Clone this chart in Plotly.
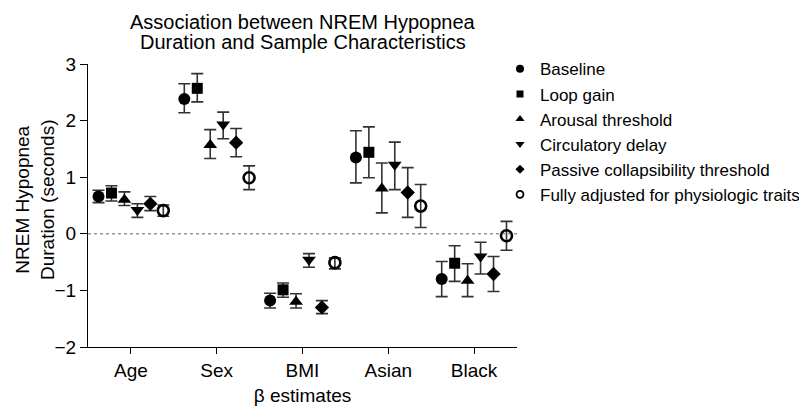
import plotly.graph_objects as go

categories = ["Age", "Sex", "BMI", "Asian", "Black"]
models = ["Baseline", "Loop gain", "Arousal threshold", "Circulatory delay",
          "Passive collapsibility threshold", "Fully adjusted for physiologic traits"]
title_lines = ["Association between NREM Hypopnea", "Duration and Sample Characteristics"]

baseline_est = [0.66, 2.38, -1.18, 1.35, -0.80]
baseline_lo = [0.55, 2.14, -1.31, 0.90, -1.11]
baseline_hi = [0.77, 2.65, -1.05, 1.82, -0.49]

loopgain_est = [0.72, 2.57, -0.99, 1.44, -0.52]
loopgain_lo = [0.58, 2.33, -1.12, 0.99, -0.84]
loopgain_hi = [0.85, 2.83, -0.87, 1.89, -0.21]

arousal_est = [0.60, 1.57, -1.20, 0.80, -0.83]
arousal_lo = [0.50, 1.33, -1.31, 0.37, -1.11]
arousal_hi = [0.74, 1.84, -1.06, 1.25, -0.53]

circ_est = [0.42, 1.93, -0.46, 1.22, -0.40]
circ_lo = [0.29, 1.68, -0.59, 0.78, -0.71]
circ_hi = [0.53, 2.15, -0.35, 1.62, -0.15]

passive_est = [0.53, 1.61, -1.30, 0.73, -0.71]
passive_lo = [0.41, 1.36, -1.41, 0.29, -1.02]
passive_hi = [0.66, 1.86, -1.18, 1.17, -0.40]

full_est = [0.41, 0.99, -0.51, 0.49, -0.035]
full_lo = [0.31, 0.78, -0.62, 0.11, -0.29]
full_hi = [0.51, 1.20, -0.43, 0.87, 0.22]

y_ticks = [-2, -1, 0, 1, 2, 3]

series = [
    (baseline_est, baseline_lo, baseline_hi),
    (loopgain_est, loopgain_lo, loopgain_hi),
    (arousal_est, arousal_lo, arousal_hi),
    (circ_est, circ_lo, circ_hi),
    (passive_est, passive_lo, passive_hi),
    (full_est, full_lo, full_hi),
]

styles = [
    dict(symbol="circle", size=12, color="black", line=dict(width=0)),
    dict(symbol="square", size=11, color="black", line=dict(width=0)),
    dict(symbol="triangle-up", size=12, color="black", line=dict(width=0)),
    dict(symbol="triangle-down", size=12, color="black", line=dict(width=0)),
    dict(symbol="diamond", size=11, color="black", line=dict(width=0)),
    dict(symbol="circle-open", size=11, color="black", line=dict(width=2.6, color="black")),
]
legend_styles = [
    dict(symbol="circle", size=8, color="black"),
    dict(symbol="square", size=7, color="black"),
    dict(symbol="triangle-up", size=8, color="black"),
    dict(symbol="triangle-down", size=8, color="black"),
    dict(symbol="diamond", size=7, color="black"),
    dict(symbol="circle-open", size=7, color="black", line=dict(width=1.8, color="black")),
]

step = 0.151
n = len(series)
fig = go.Figure()
FONT = "Liberation Sans, Arial, Helvetica, sans-serif"

for i, (name, (est, lo, hi)) in enumerate(zip(models, series)):
    off = (i - (n - 1) / 2) * step
    xs = [k + 1 + off for k in range(len(categories))]
    fig.add_trace(go.Scatter(
        x=xs, y=est, mode="markers", name=name, showlegend=False,
        marker=styles[i],
        error_y=dict(type="data", symmetric=False,
                     array=[h - e for h, e in zip(hi, est)],
                     arrayminus=[e - l for e, l in zip(est, lo)],
                     color="#333333", thickness=1.6, width=6),
    ))

for i, name in enumerate(models):
    fig.add_trace(go.Scatter(
        x=[None], y=[None], mode="markers", name=name, showlegend=True,
        legendgroup=f"g{i}", marker=legend_styles[i],
    ))

fig.add_shape(type="line", xref="paper", yref="y", x0=0, x1=1, y0=0, y1=0,
              line=dict(color="#666666", width=1, dash="dot"))

PW, PH = 429, 283
# screen coordinates -> paper coordinates (plot area spans x 88..517, y 64..347)
def px(sx):
    return (sx - 88) / PW

def py(sy):
    return (347 - sy) / PH

title_ann = [
    dict(text=t, xref="paper", yref="paper", x=px(303), y=py(sy),
         xanchor="center", yanchor="middle", showarrow=False,
         font=dict(size=20, family=FONT, color="black"))
    for t, sy in zip(title_lines, [22, 42])
]

fig.update_layout(
    width=799, height=405,
    margin=dict(l=80, r=290, t=56, b=66, autoexpand=False),
    paper_bgcolor="white", plot_bgcolor="white",
    font=dict(family=FONT, color="black", size=19),
    showlegend=True,
    legend=dict(x=px(500), y=1.045, xanchor="left", yanchor="top",
                font=dict(size=17, family=FONT, color="black"),
                tracegroupgap=0, itemwidth=30, bgcolor="rgba(0,0,0,0)"),
    xaxis=dict(range=[0.5, 5.5], tickvals=[1, 2, 3, 4, 5], ticktext=categories,
               showline=True, linecolor="black", linewidth=1.2,
               ticks="outside", ticklen=6, tickwidth=1.2, tickcolor="black",
               showgrid=False, zeroline=False,
               title=dict(text="β estimates", font=dict(size=19), standoff=8),
               tickfont=dict(size=19)),
    yaxis=dict(range=[-2, 3], tickvals=y_ticks, ticktext=["\u22122", "\u22121", "0", "1", "2", "3"],
               showline=True, linecolor="black", linewidth=1.2,
               ticks="outside", ticklen=7, tickwidth=1.2, tickcolor="black",
               showgrid=False, zeroline=False, tickfont=dict(size=19)),
    annotations=title_ann + [
        dict(text="NREM Hypopnea<br>Duration (seconds)", textangle=-90,
             xref="paper", yref="paper", x=px(10), y=py(200),
             xanchor="left", yanchor="middle", showarrow=False,
             font=dict(size=19, family=FONT, color="black")),
    ],
)

fig.write_html("out.html")
